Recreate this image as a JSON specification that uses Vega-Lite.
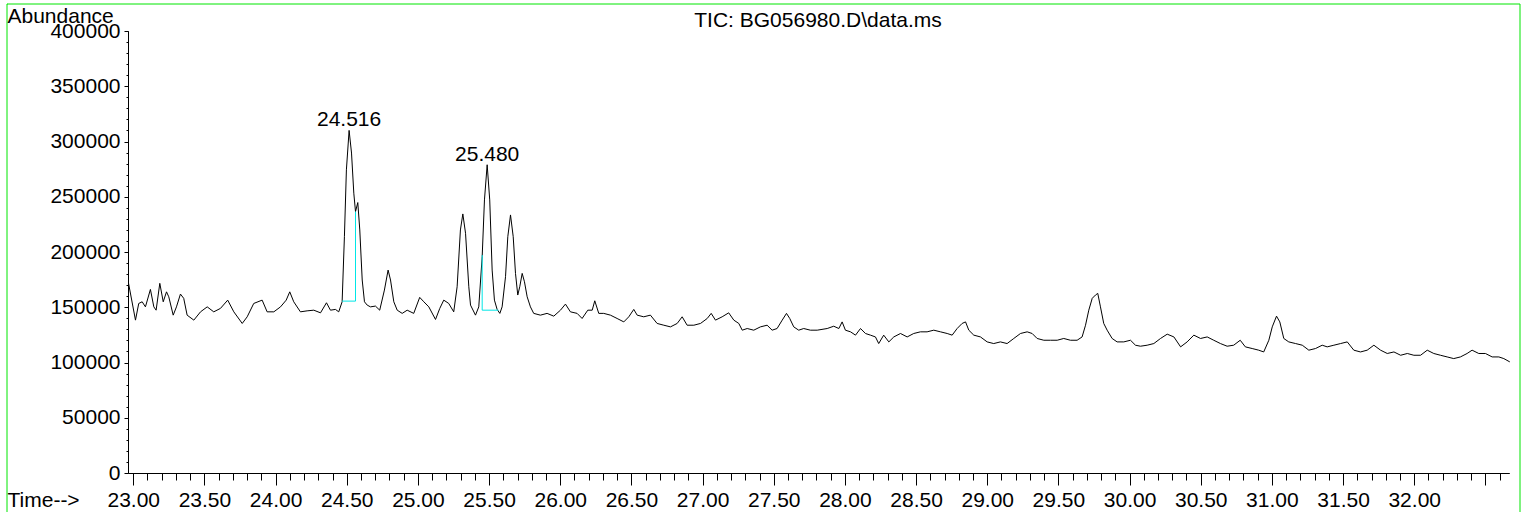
{
  "$schema": "https://vega.github.io/schema/vega-lite/v6.json",
  "width": 1513,
  "height": 508,
  "autosize": {"type": "none"},
  "padding": {"left": 6.5, "top": 3.5, "right": 6.5, "bottom": 0.5},
  "background": "white",
  "title": {"text": "TIC: BG056980.D\\data.ms", "anchor": "middle", "frame": "group", "fontSize": 21, "fontWeight": "normal", "color": "black", "dx": 55, "offset": -27, "baseline": "top"},
  "config": {"font": "Liberation Sans", "axis": {"translate": 0}, "view": {"stroke": "#00e600", "strokeWidth": 1, "strokeDash": [2021, 1513, 508, 10]}},
  "datasets": {
    "trace": [
      {"t":22.963,"v":172300},{"t":23.012,"v":138800},{"t":23.035,"v":153900},{"t":23.059,"v":155400},{"t":23.082,"v":150800},{"t":23.117,"v":166600},{"t":23.141,"v":150800},{"t":23.157,"v":147800},{"t":23.183,"v":172100},{"t":23.207,"v":155400},{"t":23.230,"v":164400},{"t":23.246,"v":159900},{"t":23.277,"v":143300},{"t":23.300,"v":150800},{"t":23.328,"v":162400},{"t":23.351,"v":158500},{"t":23.375,"v":143300},{"t":23.422,"v":138800},{"t":23.469,"v":146300},{"t":23.516,"v":150800},{"t":23.562,"v":146300},{"t":23.609,"v":149400},{"t":23.660,"v":156900},{"t":23.703,"v":146300},{"t":23.762,"v":135800},{"t":23.797,"v":141800},{"t":23.843,"v":153900},{"t":23.902,"v":156900},{"t":23.937,"v":146300},{"t":23.984,"v":146300},{"t":24.031,"v":150800},{"t":24.071,"v":156900},{"t":24.096,"v":164400},{"t":24.124,"v":155400},{"t":24.171,"v":146300},{"t":24.218,"v":147200},{"t":24.265,"v":147800},{"t":24.312,"v":145400},{"t":24.354,"v":154500},{"t":24.382,"v":147800},{"t":24.417,"v":148500},{"t":24.440,"v":146300},{"t":24.464,"v":155400},{"t":24.480,"v":214300},{"t":24.494,"v":274800},{"t":24.513,"v":310500},{"t":24.530,"v":290000},{"t":24.546,"v":253700},{"t":24.558,"v":237000},{"t":24.574,"v":245200},{"t":24.588,"v":220400},{"t":24.605,"v":175100},{"t":24.621,"v":155400},{"t":24.640,"v":152400},{"t":24.663,"v":150800},{"t":24.698,"v":151500},{"t":24.728,"v":147800},{"t":24.761,"v":166000},{"t":24.787,"v":184100},{"t":24.804,"v":175100},{"t":24.827,"v":155400},{"t":24.851,"v":147800},{"t":24.886,"v":144900},{"t":24.921,"v":147800},{"t":24.967,"v":144900},{"t":25.009,"v":159400},{"t":25.038,"v":155400},{"t":25.073,"v":150800},{"t":25.120,"v":139400},{"t":25.150,"v":149400},{"t":25.178,"v":156900},{"t":25.213,"v":153900},{"t":25.248,"v":146300},{"t":25.272,"v":169000},{"t":25.295,"v":220400},{"t":25.312,"v":234900},{"t":25.331,"v":217400},{"t":25.354,"v":169000},{"t":25.366,"v":152400},{"t":25.401,"v":143300},{"t":25.424,"v":150800},{"t":25.448,"v":196200},{"t":25.464,"v":247600},{"t":25.483,"v":279400},{"t":25.501,"v":247600},{"t":25.518,"v":184100},{"t":25.534,"v":156900},{"t":25.553,"v":148500},{"t":25.572,"v":144900},{"t":25.588,"v":150800},{"t":25.612,"v":178100},{"t":25.628,"v":214300},{"t":25.647,"v":234000},{"t":25.666,"v":214300},{"t":25.682,"v":181100},{"t":25.698,"v":161500},{"t":25.712,"v":169000},{"t":25.729,"v":181100},{"t":25.745,"v":173500},{"t":25.764,"v":159900},{"t":25.787,"v":150800},{"t":25.810,"v":144900},{"t":25.857,"v":143300},{"t":25.904,"v":144900},{"t":25.951,"v":142400},{"t":25.998,"v":147800},{"t":26.033,"v":153300},{"t":26.068,"v":146300},{"t":26.115,"v":144900},{"t":26.150,"v":140300},{"t":26.190,"v":147800},{"t":26.221,"v":147800},{"t":26.239,"v":156300},{"t":26.267,"v":144900},{"t":26.302,"v":144900},{"t":26.349,"v":143300},{"t":26.396,"v":140300},{"t":26.443,"v":137200},{"t":26.478,"v":141800},{"t":26.513,"v":148500},{"t":26.537,"v":143300},{"t":26.583,"v":141800},{"t":26.630,"v":143300},{"t":26.677,"v":135800},{"t":26.724,"v":134200},{"t":26.771,"v":132700},{"t":26.818,"v":135800},{"t":26.853,"v":141800},{"t":26.888,"v":134200},{"t":26.935,"v":134200},{"t":26.982,"v":135800},{"t":27.029,"v":140300},{"t":27.057,"v":144900},{"t":27.087,"v":138800},{"t":27.134,"v":141800},{"t":27.180,"v":145400},{"t":27.216,"v":138800},{"t":27.251,"v":135800},{"t":27.275,"v":129700},{"t":27.310,"v":131200},{"t":27.356,"v":129700},{"t":27.403,"v":132700},{"t":27.450,"v":134200},{"t":27.485,"v":129700},{"t":27.520,"v":131200},{"t":27.556,"v":138800},{"t":27.586,"v":144900},{"t":27.609,"v":140300},{"t":27.637,"v":132700},{"t":27.672,"v":129700},{"t":27.707,"v":131200},{"t":27.754,"v":129700},{"t":27.802,"v":129700},{"t":27.872,"v":131200},{"t":27.918,"v":133300},{"t":27.954,"v":131200},{"t":27.977,"v":137200},{"t":28.000,"v":129700},{"t":28.036,"v":128200},{"t":28.071,"v":125200},{"t":28.106,"v":131200},{"t":28.141,"v":126700},{"t":28.176,"v":125200},{"t":28.211,"v":123600},{"t":28.234,"v":117600},{"t":28.269,"v":125200},{"t":28.305,"v":119100},{"t":28.340,"v":123600},{"t":28.387,"v":126700},{"t":28.434,"v":123600},{"t":28.480,"v":126700},{"t":28.527,"v":128200},{"t":28.574,"v":128200},{"t":28.621,"v":129700},{"t":28.668,"v":128200},{"t":28.715,"v":126700},{"t":28.750,"v":125200},{"t":28.785,"v":131200},{"t":28.820,"v":135800},{"t":28.844,"v":137200},{"t":28.867,"v":129700},{"t":28.902,"v":125200},{"t":28.949,"v":123600},{"t":28.996,"v":119100},{"t":29.042,"v":117600},{"t":29.089,"v":119100},{"t":29.136,"v":117600},{"t":29.183,"v":122200},{"t":29.230,"v":126700},{"t":29.277,"v":128200},{"t":29.312,"v":126700},{"t":29.347,"v":122200},{"t":29.394,"v":120600},{"t":29.441,"v":120600},{"t":29.488,"v":120600},{"t":29.534,"v":122200},{"t":29.581,"v":120600},{"t":29.628,"v":120600},{"t":29.663,"v":123600},{"t":29.687,"v":134200},{"t":29.710,"v":147800},{"t":29.734,"v":158500},{"t":29.757,"v":161500},{"t":29.773,"v":163000},{"t":29.792,"v":150800},{"t":29.815,"v":135800},{"t":29.839,"v":129700},{"t":29.874,"v":122200},{"t":29.909,"v":119100},{"t":29.956,"v":119100},{"t":30.003,"v":120600},{"t":30.038,"v":116100},{"t":30.073,"v":115200},{"t":30.120,"v":116100},{"t":30.167,"v":117600},{"t":30.214,"v":122200},{"t":30.261,"v":126100},{"t":30.308,"v":123600},{"t":30.355,"v":114600},{"t":30.401,"v":119100},{"t":30.448,"v":125200},{"t":30.495,"v":122200},{"t":30.542,"v":123600},{"t":30.588,"v":120600},{"t":30.635,"v":117600},{"t":30.682,"v":115200},{"t":30.728,"v":116100},{"t":30.774,"v":120600},{"t":30.810,"v":114600},{"t":30.858,"v":113100},{"t":30.904,"v":111600},{"t":30.939,"v":110000},{"t":30.975,"v":120600},{"t":30.999,"v":132700},{"t":31.029,"v":142400},{"t":31.052,"v":137200},{"t":31.080,"v":122200},{"t":31.115,"v":119100},{"t":31.163,"v":117600},{"t":31.210,"v":116100},{"t":31.256,"v":111600},{"t":31.303,"v":113100},{"t":31.350,"v":116100},{"t":31.385,"v":114600},{"t":31.432,"v":116100},{"t":31.479,"v":117600},{"t":31.526,"v":119100},{"t":31.572,"v":111600},{"t":31.619,"v":110000},{"t":31.666,"v":111600},{"t":31.713,"v":116100},{"t":31.760,"v":111600},{"t":31.807,"v":108600},{"t":31.854,"v":110000},{"t":31.901,"v":107000},{"t":31.948,"v":108600},{"t":31.994,"v":107000},{"t":32.041,"v":107000},{"t":32.088,"v":111600},{"t":32.134,"v":108600},{"t":32.181,"v":107000},{"t":32.228,"v":105500},{"t":32.274,"v":104000},{"t":32.321,"v":105500},{"t":32.368,"v":108600},{"t":32.403,"v":111600},{"t":32.450,"v":108600},{"t":32.497,"v":108600},{"t":32.544,"v":105500},{"t":32.591,"v":105500},{"t":32.626,"v":104000},{"t":32.668,"v":101000}
    ],
    "base": [
      {"seg":1,"o":1,"t":24.464,"v":156000},{"seg":1,"o":2,"t":24.558,"v":156000},{"seg":1,"o":3,"t":24.558,"v":237000},
      {"seg":2,"o":1,"t":25.448,"v":197700},{"seg":2,"o":2,"t":25.448,"v":147800},{"seg":2,"o":3,"t":25.562,"v":147800}
    ],
    "peaks": [
      {"t":24.513,"v":310500,"label":"24.516"},
      {"t":25.483,"v":279400,"label":"25.480"}
    ]
  },
  "layer": [
    {
      "data": {"name": "trace"},
      "mark": {"type": "line", "color": "black", "strokeWidth": 1},
      "encoding": {
        "x": {"field": "t", "type": "quantitative",
          "scale": {"domain": [22.963, 32.668], "range": [122, 1503.3], "nice": false, "zero": false},
          "axis": {"orient": "bottom", "offset": -38, "values": [23,23.5,24,24.5,25,25.5,26,26.5,27,27.5,28,28.5,29,29.5,30,30.5,31,31.5,32,32.5],
            "format": ".2f", "labelExpr": "datum.value > 32.4 ? '' : datum.label",
            "tickSize": 12, "tickColor": "black", "tickWidth": 1, "domainColor": "black", "domainWidth": 1,
            "labelFontSize": 21, "labelColor": "black", "labelBaseline": "alphabetic", "labelPadding": 21, "labelFlush": false, "labelOverlap": false, "grid": false,
            "title": "Time-->", "titleFontSize": 21, "titleFontWeight": "normal", "titleColor": "black", "titleAlign": "left", "titleAnchor": "start", "titleBaseline": "alphabetic", "titleX": 1, "titleY": 33}},
        "y": {"field": "v", "type": "quantitative",
          "scale": {"domain": [0, 400000], "range": [470, 28], "nice": false, "zero": false},
          "axis": {"orient": "left", "offset": -122, "values": [0,50000,100000,150000,200000,250000,300000,350000,400000],
            "format": "d", "tickSize": 4, "tickColor": "black", "tickWidth": 1, "domainColor": "black", "domainWidth": 1,
            "labelFontSize": 21, "labelColor": "black", "labelBaseline": "middle", "labelPadding": 4, "labelFlush": false, "labelOverlap": false, "grid": false,
            "title": "Abundance", "titleFontSize": 21, "titleFontWeight": "normal", "titleColor": "black", "titleAngle": 0, "titleAlign": "left", "titleAnchor": "start", "titleBaseline": "alphabetic", "titleX": -121, "titleY": 19}}
      }
    },
    {
      "data": {"name": "base"},
      "mark": {"type": "line", "color": "#00e6e6", "strokeWidth": 1},
      "encoding": {
        "x": {"field": "t", "type": "quantitative",
          "scale": {"domain": [22.963, 32.668], "range": [122, 1503.3], "nice": false, "zero": false},
          "axis": {"orient": "bottom", "offset": -38, "values": [23,23.1,23.2,23.3,23.4,23.5,23.6,23.7,23.8,23.9,24,24.1,24.2,24.3,24.4,24.5,24.6,24.7,24.8,24.9,25,25.1,25.2,25.3,25.4,25.5,25.6,25.7,25.8,25.9,26,26.1,26.2,26.3,26.4,26.5,26.6,26.7,26.8,26.9,27,27.1,27.2,27.3,27.4,27.5,27.6,27.7,27.8,27.9,28,28.1,28.2,28.3,28.4,28.5,28.6,28.7,28.8,28.9,29,29.1,29.2,29.3,29.4,29.5,29.6,29.7,29.8,29.9,30,30.1,30.2,30.3,30.4,30.5,30.6,30.7,30.8,30.9,31,31.1,31.2,31.3,31.4,31.5,31.6,31.7,31.8,31.9,32,32.1,32.2,32.3,32.4,32.5,32.6],
            "tickSize": 7, "tickColor": "black", "tickWidth": 1, "labels": false, "domain": false, "grid": false, "title": null}},
        "y": {"field": "v", "type": "quantitative",
          "scale": {"domain": [0, 400000], "range": [470, 28], "nice": false, "zero": false},
          "axis": {"orient": "left", "offset": -122, "values": [0,10000,20000,30000,40000,50000,60000,70000,80000,90000,100000,110000,120000,130000,140000,150000,160000,170000,180000,190000,200000,210000,220000,230000,240000,250000,260000,270000,280000,290000,300000,310000,320000,330000,340000,350000,360000,370000,380000,390000,400000],
            "tickSize": 2, "tickColor": "black", "tickWidth": 1, "labels": false, "domain": false, "grid": false, "title": null}},
        "detail": {"field": "seg"},
        "order": {"field": "o"}
      }
    },
    {
      "data": {"name": "peaks"},
      "mark": {"type": "text", "fontSize": 21, "dy": -4, "baseline": "alphabetic", "align": "center", "color": "black"},
      "encoding": {
        "x": {"field": "t", "type": "quantitative", "scale": {"domain": [22.963, 32.668], "range": [122, 1503.3], "nice": false, "zero": false}, "axis": null},
        "y": {"field": "v", "type": "quantitative", "scale": {"domain": [0, 400000], "range": [470, 28], "nice": false, "zero": false}, "axis": null},
        "text": {"field": "label"}
      }
    }
  ],
  "resolve": {"axis": {"x": "independent", "y": "independent"}}
}
